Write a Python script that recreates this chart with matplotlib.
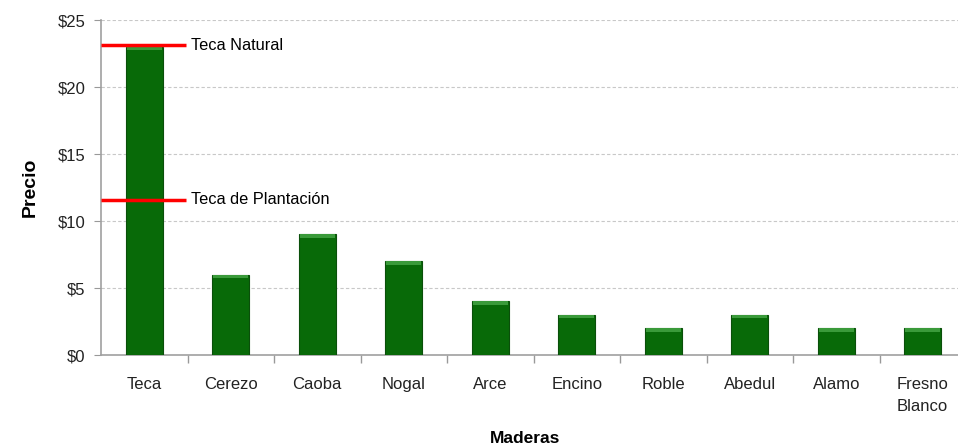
import numpy as np
import matplotlib.pyplot as plt
from matplotlib.ticker import FixedLocator

plt.rcParams['font.family'] = ['Liberation Sans', 'DejaVu Sans']

maderas = ['Teca', 'Cerezo', 'Caoba', 'Nogal', 'Arce', 'Encino', 'Roble',
           'Abedul', 'Alamo', 'Fresno\nBlanco']
precios = [23, 6, 9, 7, 4, 3, 2, 3, 2, 2]
# reference lines drawn over the Teca bar
ref_nombres = ['Teca Natural', 'Teca de Plantación']
ref_valores = [23.1, 11.6]

fig = plt.figure(figsize=(9.58, 4.48), dpi=100)
ax = fig.add_axes([101 / 958, 1 - 355 / 448, 865 / 958, 335 / 448])

x = np.arange(len(maderas))
ax.bar(x, precios, width=0.43, color='#086a08', edgecolor='#0a4f0a',
       linewidth=0.8, zorder=3)
# lighter cap at top of each bar
ax.bar(x, [0.25] * len(x), bottom=np.array(precios) - 0.25, width=0.41,
       color='#3a9a3a', linewidth=0, zorder=4)

ax.set_xlim(-0.5, len(maderas) - 0.5)
ax.set_ylim(0, 25)
ax.set_yticks(range(0, 26, 5))
ax.set_yticklabels(['$%d' % v for v in range(0, 26, 5)])
ax.yaxis.grid(True, linestyle=(0, (3, 2)), color='#c8c8c8', linewidth=0.8, zorder=0)

ax.set_xticks(x)
ax.set_xticklabels(maderas, linespacing=1.6)
ax.xaxis.set_minor_locator(FixedLocator(np.arange(0.5, len(maderas) - 0.5, 1)))
ax.tick_params(axis='x', which='major', length=0, pad=16, labelsize=12, labelcolor='#222222')
ax.tick_params(axis='x', which='minor', length=6, color='#999999', width=1)
ax.tick_params(axis='y', length=5, color='#999999', labelsize=12, labelcolor='#222222', pad=6)

for s in ['top', 'right']:
    ax.spines[s].set_visible(False)
for s in ['left', 'bottom']:
    ax.spines[s].set_color('#a0a0a0')
    ax.spines[s].set_linewidth(1.2)

for nombre, v in zip(ref_nombres, ref_valores):
    ax.plot([-0.5, 0.48], [v, v], color='#ff0000', linewidth=2.5, zorder=5,
            clip_on=False, solid_capstyle='butt')
    ax.text(0.54, v, nombre, fontsize=11.8, va='center', ha='left', color='black', zorder=6)

ax.set_ylabel('Precio', fontsize=14, fontweight='bold', labelpad=14)
ax.text(0.49, -0.25, 'Maderas', transform=ax.transAxes, fontsize=12.5,
        fontweight='bold', ha='center', va='center')

fig.savefig('out.png', dpi=100)
